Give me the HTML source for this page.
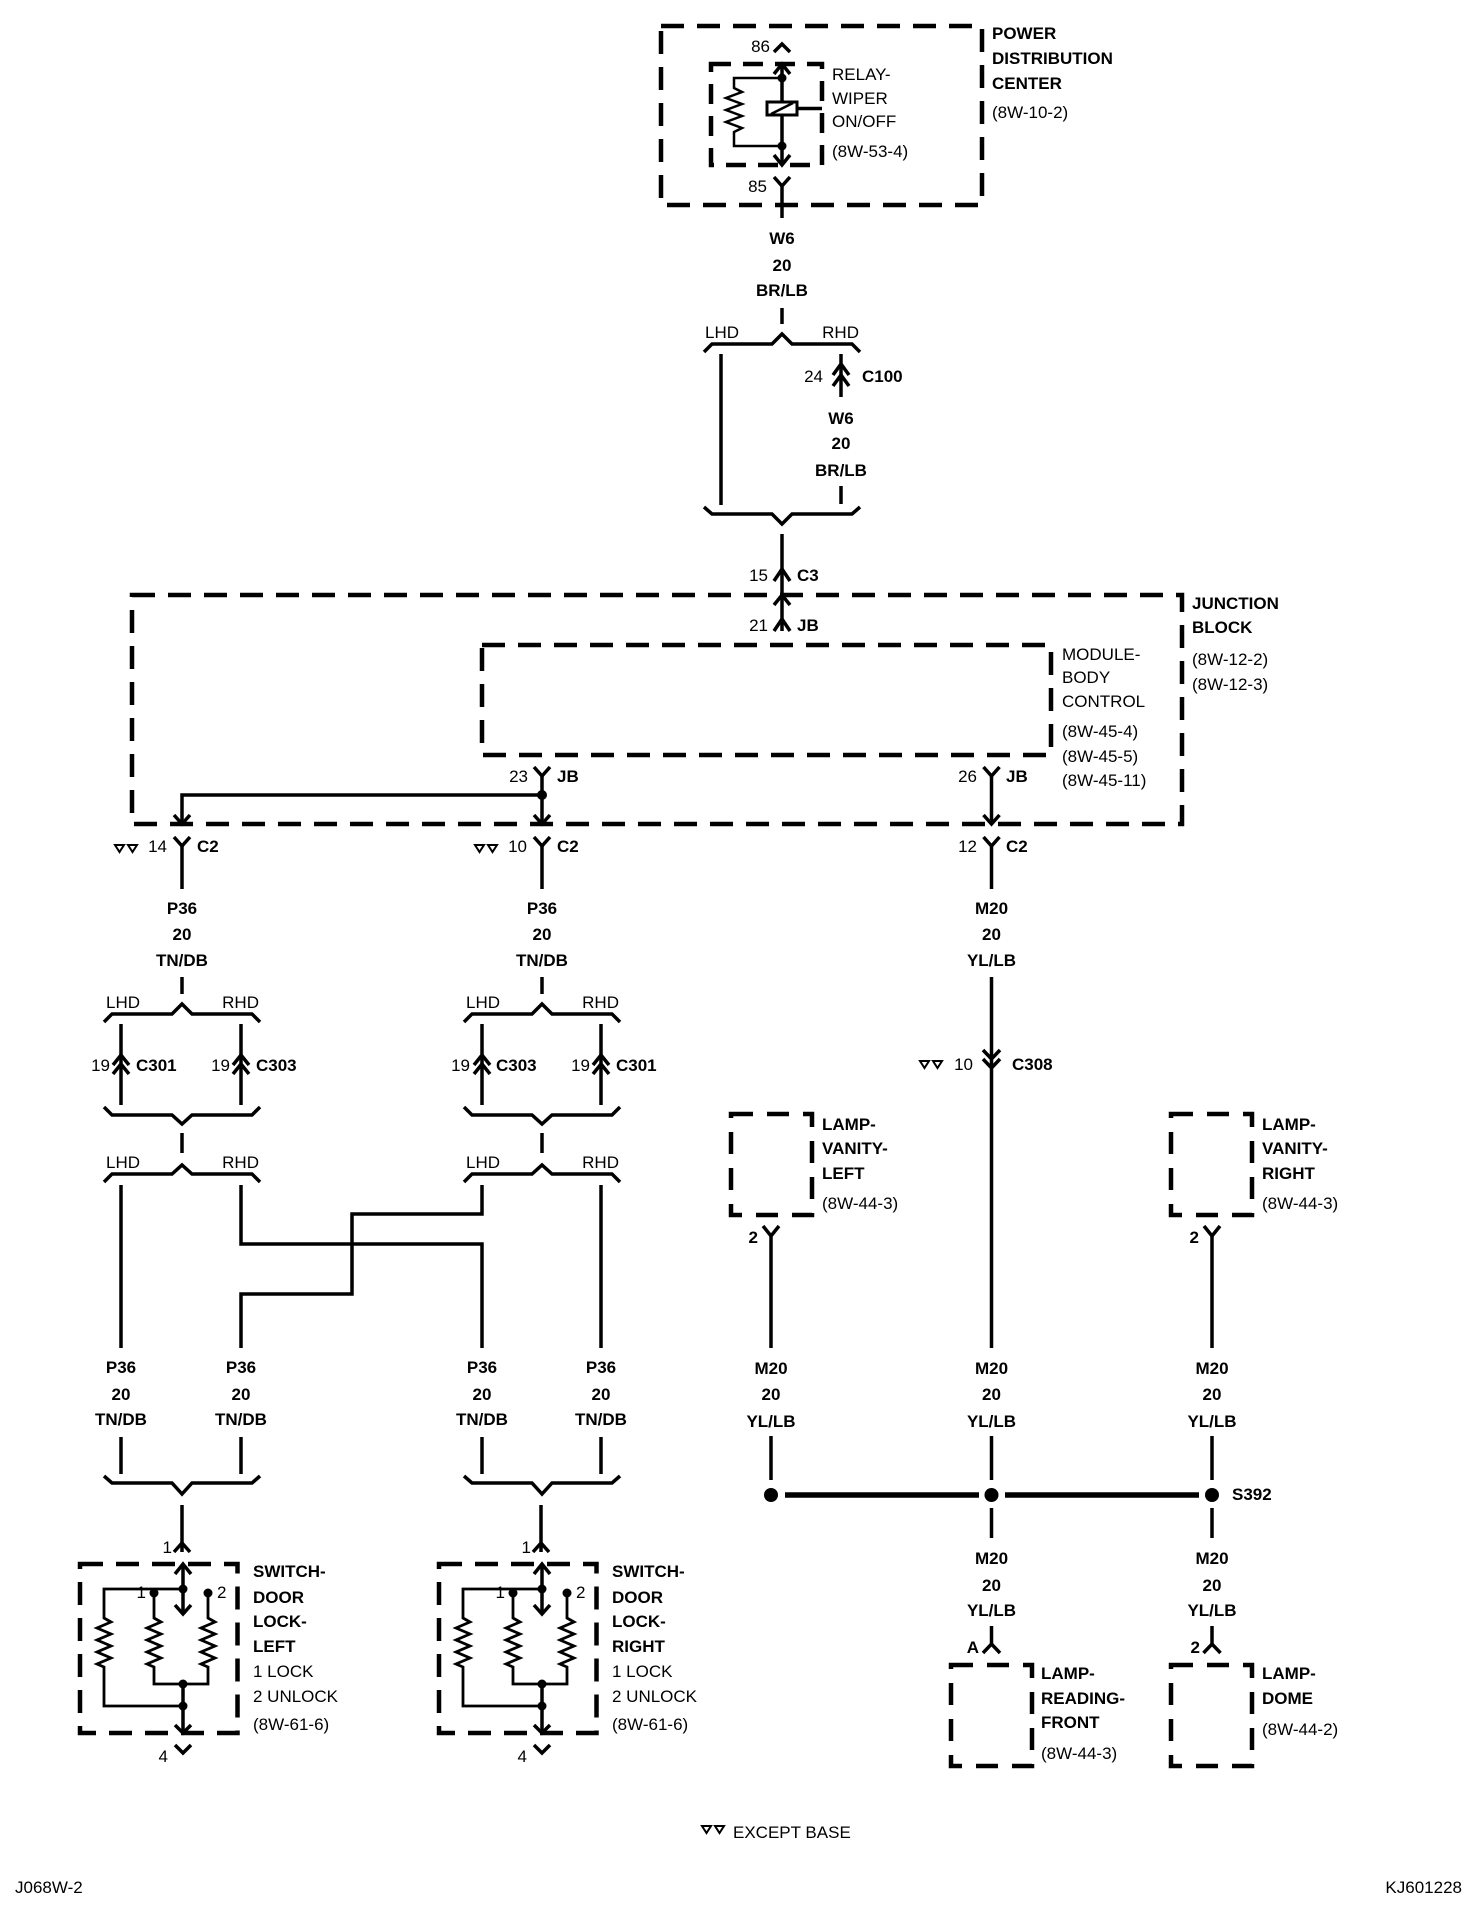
<!DOCTYPE html>
<html><head><meta charset="utf-8"><style>
html,body{margin:0;padding:0;background:#fff}
svg{display:block}
text{font-family:"Liberation Sans",Arial,sans-serif;font-size:17px;fill:#000}
.b{font-weight:bold}
.m{text-anchor:middle}
.e{text-anchor:end}
.w{fill:none;stroke:#000;stroke-width:3.5;stroke-linejoin:miter}
.d{fill:none;stroke:#000;stroke-width:4.5;stroke-dasharray:23 13}
</style></head><body>
<svg width="1472" height="1920" viewBox="0 0 1472 1920" xmlns="http://www.w3.org/2000/svg">
<!-- PDC -->
<rect class="d" x="661" y="26" width="321" height="179"/>
<text class="b" x="992" y="39">POWER</text>
<text class="b" x="992" y="64">DISTRIBUTION</text>
<text class="b" x="992" y="89">CENTER</text>
<text x="992" y="118">(8W-10-2)</text>
<text class="e" x="770" y="52">86</text>
<polyline class="w" points="774,52 782,44 790,52"/>
<rect class="d" x="711" y="64" width="111" height="101" style="stroke-dasharray:20 12"/>
<line class="w" x1="782" y1="64" x2="782" y2="165"/>
<polyline class="w" points="774,74 782,64 790,74"/>
<polyline class="w" points="774,155 782,165 790,155"/>
<circle cx="782" cy="78" r="4.5"/><circle cx="782" cy="146" r="4.5"/>
<polyline class="w" style="stroke-width:2.5" points="782,78 734,78 734,88 742,92 726,98 742,104 726,110 742,116 726,122 742,128 734,132 734,146 782,146"/>
<rect x="767" y="102" width="30" height="13" fill="#fff" stroke="#000" stroke-width="3"/>
<line class="w" style="stroke-width:2.5" x1="771" y1="114" x2="793" y2="103"/>
<line class="w" x1="797" y1="108.5" x2="822" y2="108.5"/>
<text x="832" y="80">RELAY-</text>
<text x="832" y="104">WIPER</text>
<text x="832" y="127">ON/OFF</text>
<text x="832" y="157">(8W-53-4)</text>
<text class="e" x="767" y="192">85</text>
<polyline class="w" points="774,177 782,186 790,177"/>
<line class="w" x1="782" y1="186" x2="782" y2="218"/>
<text class="b m" x="782" y="244">W6</text>
<text class="b m" x="782" y="271">20</text>
<text class="b m" x="782" y="296">BR/LB</text>
<line class="w" x1="782" y1="308" x2="782" y2="324"/>
<path class="w" d="M704,352 L712,344 L772,344 L782,334 L792,344 L852,344 L860,352"/>
<text x="705" y="338">LHD</text>
<text class="e" x="859" y="338">RHD</text>
<line class="w" x1="721" y1="354" x2="721" y2="505"/>
<line class="w" x1="841" y1="354" x2="841" y2="397"/>
<polyline class="w" points="833,375 841,364 849,375"/>
<polyline class="w" points="833,386 841,375 849,386"/>
<text class="e" x="823" y="382">24</text>
<text class="b" x="862" y="382">C100</text>
<text class="b m" x="841" y="424">W6</text>
<text class="b m" x="841" y="449">20</text>
<text class="b m" x="841" y="476">BR/LB</text>
<line class="w" x1="841" y1="486" x2="841" y2="504"/>
<path class="w" d="M704,507 L712,514 L772,514 L782,524 L792,514 L852,514 L860,507"/>
<line class="w" x1="782" y1="534" x2="782" y2="631"/>
<polyline class="w" points="774,581 782,569 790,581"/>
<text class="e" x="768" y="581">15</text>
<text class="b" x="797" y="581">C3</text>
<!-- JB -->
<rect class="d" x="132" y="595" width="1050" height="229"/>
<polyline class="w" points="774,605 782,595 790,605"/>
<polyline class="w" points="774,631 782,619 790,631"/>
<text class="e" x="768" y="631">21</text>
<text class="b" x="797" y="631">JB</text>
<text class="b" x="1192" y="609">JUNCTION</text>
<text class="b" x="1192" y="633">BLOCK</text>
<text x="1192" y="665">(8W-12-2)</text>
<text x="1192" y="690">(8W-12-3)</text>
<rect class="d" x="482" y="645" width="569" height="110"/>
<text x="1062" y="660">MODULE-</text>
<text x="1062" y="683">BODY</text>
<text x="1062" y="707">CONTROL</text>
<text x="1062" y="737">(8W-45-4)</text>
<text x="1062" y="762">(8W-45-5)</text>
<text x="1062" y="786">(8W-45-11)</text>
<polyline class="w" points="534,767 542,776 550,767"/>
<line class="w" x1="542" y1="776" x2="542" y2="824"/>
<text class="e" x="528" y="782">23</text>
<text class="b" x="557" y="782">JB</text>
<circle cx="542" cy="795" r="5"/>
<polyline class="w" points="542,795 182,795 182,824"/>
<polyline class="w" points="174,815 182,824 190,815"/>
<polyline class="w" points="534,815 542,824 550,815"/>
<polyline class="w" points="983.5,767 991.5,776 999.5,767"/>
<line class="w" x1="991.5" y1="776" x2="991.5" y2="824"/>
<polyline class="w" points="983.5,815 991.5,824 999.5,815"/>
<text class="e" x="977" y="782">26</text>
<text class="b" x="1006" y="782">JB</text>
<!-- C2 row -->
<g>
<polyline class="w" points="174,837 182,846 190,837"/><line class="w" x1="182" y1="846" x2="182" y2="889"/>
<text class="e" x="167" y="852">14</text><text class="b" x="197" y="852">C2</text>
<polygon points="115,845 124,845 119.5,852" fill="none" stroke="#000" stroke-width="2"/>
<polygon points="128,845 137,845 132.5,852" fill="none" stroke="#000" stroke-width="2"/>
<polyline class="w" points="534,837 542,846 550,837"/><line class="w" x1="542" y1="846" x2="542" y2="889"/>
<text class="e" x="527" y="852">10</text><text class="b" x="557" y="852">C2</text>
<polygon points="475,845 484,845 479.5,852" fill="none" stroke="#000" stroke-width="2"/>
<polygon points="488,845 497,845 492.5,852" fill="none" stroke="#000" stroke-width="2"/>
<polyline class="w" points="983.5,837 991.5,846 999.5,837"/><line class="w" x1="991.5" y1="846" x2="991.5" y2="889"/>
<text class="e" x="977" y="852">12</text><text class="b" x="1006" y="852">C2</text>
</g>
<text class="b m" x="182" y="914">P36</text><text class="b m" x="182" y="940">20</text><text class="b m" x="182" y="966">TN/DB</text>
<text class="b m" x="542" y="914">P36</text><text class="b m" x="542" y="940">20</text><text class="b m" x="542" y="966">TN/DB</text>
<text class="b m" x="991.5" y="914">M20</text><text class="b m" x="991.5" y="940">20</text><text class="b m" x="991.5" y="966">YL/LB</text>
<line class="w" x1="182" y1="977" x2="182" y2="994"/>
<line class="w" x1="542" y1="977" x2="542" y2="994"/>
<!-- split groups -->
<path class="w" d="M104,1022 L112,1014 L172,1014 L182,1004 L192,1014 L252,1014 L260,1022"/>
<path class="w" d="M464,1022 L472,1014 L532,1014 L542,1004 L552,1014 L612,1014 L620,1022"/>
<text x="106" y="1008">LHD</text><text class="e" x="259" y="1008">RHD</text>
<text x="466" y="1008">LHD</text><text class="e" x="619" y="1008">RHD</text>
<g>
<line class="w" x1="121" y1="1024" x2="121" y2="1105"/>
<polyline class="w" points="113,1065 121,1055 129,1065"/><polyline class="w" points="113,1074 121,1064 129,1074"/>
<text class="e" x="110" y="1071">19</text><text class="b" x="136" y="1071">C301</text>
<line class="w" x1="241" y1="1024" x2="241" y2="1105"/>
<polyline class="w" points="233,1065 241,1055 249,1065"/><polyline class="w" points="233,1074 241,1064 249,1074"/>
<text class="e" x="230" y="1071">19</text><text class="b" x="256" y="1071">C303</text>
<line class="w" x1="482" y1="1024" x2="482" y2="1105"/>
<polyline class="w" points="474,1065 482,1055 490,1065"/><polyline class="w" points="474,1074 482,1064 490,1074"/>
<text class="e" x="470" y="1071">19</text><text class="b" x="496" y="1071">C303</text>
<line class="w" x1="601" y1="1024" x2="601" y2="1105"/>
<polyline class="w" points="593,1065 601,1055 609,1065"/><polyline class="w" points="593,1074 601,1064 609,1074"/>
<text class="e" x="590" y="1071">19</text><text class="b" x="616" y="1071">C301</text>
</g>
<path class="w" d="M104,1107 L112,1115 L172,1115 L182,1124 L192,1115 L252,1115 L260,1107"/>
<path class="w" d="M464,1107 L472,1115 L532,1115 L542,1124 L552,1115 L612,1115 L620,1107"/>
<line class="w" x1="182" y1="1133" x2="182" y2="1153"/>
<line class="w" x1="542" y1="1133" x2="542" y2="1153"/>
<path class="w" d="M104,1182 L112,1174 L172,1174 L182,1165 L192,1174 L252,1174 L260,1182"/>
<path class="w" d="M464,1182 L472,1174 L532,1174 L542,1165 L552,1174 L612,1174 L620,1182"/>
<text x="106" y="1168">LHD</text><text class="e" x="259" y="1168">RHD</text>
<text x="466" y="1168">LHD</text><text class="e" x="619" y="1168">RHD</text>
<line class="w" x1="121" y1="1185" x2="121" y2="1348"/>
<polyline class="w" points="241,1185 241,1244 482,1244 482,1348"/>
<polyline class="w" points="482,1185 482,1214 352,1214 352,1294 241,1294 241,1348"/>
<line class="w" x1="601" y1="1185" x2="601" y2="1348"/>
<g>
<text class="b m" x="121" y="1373">P36</text><text class="b m" x="121" y="1400">20</text><text class="b m" x="121" y="1425">TN/DB</text>
<text class="b m" x="241" y="1373">P36</text><text class="b m" x="241" y="1400">20</text><text class="b m" x="241" y="1425">TN/DB</text>
<text class="b m" x="482" y="1373">P36</text><text class="b m" x="482" y="1400">20</text><text class="b m" x="482" y="1425">TN/DB</text>
<text class="b m" x="601" y="1373">P36</text><text class="b m" x="601" y="1400">20</text><text class="b m" x="601" y="1425">TN/DB</text>
</g>
<line class="w" x1="121" y1="1437" x2="121" y2="1474"/>
<line class="w" x1="241" y1="1437" x2="241" y2="1474"/>
<line class="w" x1="482" y1="1437" x2="482" y2="1474"/>
<line class="w" x1="601" y1="1437" x2="601" y2="1474"/>
<path class="w" d="M104,1476 L112,1483 L172,1483 L182,1494 L192,1483 L252,1483 L260,1476"/>
<path class="w" d="M464,1476 L472,1483 L532,1483 L542,1494 L552,1483 L612,1483 L620,1476"/>
<!-- switches -->
<g id="sw1">
<line class="w" x1="182" y1="1505" x2="182" y2="1552"/>
<polyline class="w" points="174,1552 182,1543 190,1552"/>
<text class="e" x="172" y="1553">1</text>
<rect class="d" x="80" y="1564" width="157.5" height="169"/>
<line class="w" x1="183" y1="1564" x2="183" y2="1614"/>
<polyline class="w" points="175,1574 183,1564 191,1574"/>
<polyline class="w" points="175,1605 183,1614 191,1605"/>
<circle cx="183" cy="1589" r="4.5"/>
<polyline class="w" style="stroke-width:2.8" points="183,1589 104,1589 104,1618 111,1622 97,1628 111,1634 97,1640 111,1646 97,1652 111,1658 97,1664 104,1667 104,1706 183,1706"/>
<circle cx="154" cy="1593" r="4.5"/><circle cx="208" cy="1593" r="4.5"/>
<polyline class="w" style="stroke-width:2.8" points="154,1593 154,1618 161,1622 147,1628 161,1634 147,1640 161,1646 147,1652 161,1658 147,1664 154,1667 154,1684 208,1684 208,1667 201,1664 215,1658 201,1652 215,1646 201,1640 215,1634 201,1628 215,1622 208,1618 208,1593"/>
<circle cx="183" cy="1684" r="4.5"/><circle cx="183" cy="1706" r="4.5"/>
<line class="w" x1="183" y1="1684" x2="183" y2="1733"/>
<polyline class="w" points="175,1725 183,1733 191,1725"/>
<text class="e" x="146" y="1598">1</text>
<text x="217" y="1598">2</text>
<text class="e" x="168" y="1762">4</text>
<polyline class="w" points="175,1745 183,1753 191,1745"/>
</g>
<use href="#sw1" x="359"/>
<text class="b" x="253" y="1577">SWITCH-</text>
<text class="b" x="253" y="1603">DOOR</text>
<text class="b" x="253" y="1627">LOCK-</text>
<text class="b" x="253" y="1652">LEFT</text>
<text x="253" y="1677">1 LOCK</text>
<text x="253" y="1702">2 UNLOCK</text>
<text x="253" y="1730">(8W-61-6)</text>
<text class="b" x="612" y="1577">SWITCH-</text>
<text class="b" x="612" y="1603">DOOR</text>
<text class="b" x="612" y="1627">LOCK-</text>
<text class="b" x="612" y="1652">RIGHT</text>
<text x="612" y="1677">1 LOCK</text>
<text x="612" y="1702">2 UNLOCK</text>
<text x="612" y="1730">(8W-61-6)</text>
<!-- M20 center -->
<line class="w" x1="991.5" y1="977" x2="991.5" y2="1348"/>
<polyline class="w" points="983,1050 991.5,1059 1000,1050"/>
<polyline class="w" points="983,1059 991.5,1068 1000,1059"/>
<text class="e" x="973" y="1070">10</text>
<text class="b" x="1012" y="1070">C308</text>
<polygon points="920,1061 929,1061 924.5,1068" fill="none" stroke="#000" stroke-width="2"/>
<polygon points="933,1061 942,1061 937.5,1068" fill="none" stroke="#000" stroke-width="2"/>
<!-- vanity lamps -->
<rect class="d" x="731" y="1114" width="81" height="101" style="stroke-dasharray:22 14"/>
<text class="b" x="822" y="1130">LAMP-</text>
<text class="b" x="822" y="1154">VANITY-</text>
<text class="b" x="822" y="1179">LEFT</text>
<text x="822" y="1209">(8W-44-3)</text>
<polyline class="w" points="763,1226 771,1236 779,1226"/>
<line class="w" x1="771" y1="1236" x2="771" y2="1348"/>
<text class="b e" x="758" y="1243">2</text>
<rect class="d" x="1171" y="1114" width="81" height="101" style="stroke-dasharray:22 14"/>
<text class="b" x="1262" y="1130">LAMP-</text>
<text class="b" x="1262" y="1154">VANITY-</text>
<text class="b" x="1262" y="1179">RIGHT</text>
<text x="1262" y="1209">(8W-44-3)</text>
<polyline class="w" points="1204,1226 1212,1236 1220,1226"/>
<line class="w" x1="1212" y1="1236" x2="1212" y2="1348"/>
<text class="b e" x="1199" y="1243">2</text>
<g>
<text class="b m" x="771" y="1374">M20</text><text class="b m" x="771" y="1400">20</text><text class="b m" x="771" y="1427">YL/LB</text>
<text class="b m" x="991.5" y="1374">M20</text><text class="b m" x="991.5" y="1400">20</text><text class="b m" x="991.5" y="1427">YL/LB</text>
<text class="b m" x="1212" y="1374">M20</text><text class="b m" x="1212" y="1400">20</text><text class="b m" x="1212" y="1427">YL/LB</text>
</g>
<line class="w" x1="771" y1="1436" x2="771" y2="1480"/>
<line class="w" x1="991.5" y1="1436" x2="991.5" y2="1480"/>
<line class="w" x1="1212" y1="1436" x2="1212" y2="1480"/>
<circle cx="771" cy="1495" r="7"/><circle cx="991.5" cy="1495" r="7"/><circle cx="1212" cy="1495" r="7"/>
<line x1="785" y1="1495" x2="979" y2="1495" stroke="#000" stroke-width="5.5"/>
<line x1="1005" y1="1495" x2="1199" y2="1495" stroke="#000" stroke-width="5.5"/>
<text class="b" x="1232" y="1500">S392</text>
<line class="w" x1="991.5" y1="1508" x2="991.5" y2="1538"/>
<line class="w" x1="1212" y1="1508" x2="1212" y2="1538"/>
<text class="b m" x="991.5" y="1564">M20</text><text class="b m" x="991.5" y="1591">20</text><text class="b m" x="991.5" y="1616">YL/LB</text>
<text class="b m" x="1212" y="1564">M20</text><text class="b m" x="1212" y="1591">20</text><text class="b m" x="1212" y="1616">YL/LB</text>
<line class="w" x1="991.5" y1="1626" x2="991.5" y2="1645"/>
<polyline class="w" points="983,1653 991.5,1644 1000,1653"/>
<text class="b e" x="979" y="1653">A</text>
<line class="w" x1="1212" y1="1626" x2="1212" y2="1645"/>
<polyline class="w" points="1203.5,1653 1212,1644 1220.5,1653"/>
<text class="b e" x="1200" y="1653">2</text>
<rect class="d" x="951" y="1665" width="81" height="101" style="stroke-dasharray:22 14"/>
<text class="b" x="1041" y="1679">LAMP-</text>
<text class="b" x="1041" y="1704">READING-</text>
<text class="b" x="1041" y="1728">FRONT</text>
<text x="1041" y="1759">(8W-44-3)</text>
<rect class="d" x="1171" y="1665" width="81" height="101" style="stroke-dasharray:22 14"/>
<text class="b" x="1262" y="1679">LAMP-</text>
<text class="b" x="1262" y="1704">DOME</text>
<text x="1262" y="1735">(8W-44-2)</text>
<!-- footer -->
<polygon points="702,1826 711,1826 706.5,1833" fill="none" stroke="#000" stroke-width="2"/>
<polygon points="715,1826 724,1826 719.5,1833" fill="none" stroke="#000" stroke-width="2"/>
<text x="733" y="1838">EXCEPT BASE</text>
<text x="15" y="1893">J068W-2</text>
<text class="e" x="1462" y="1893">KJ601228</text>
</svg>
</body></html>
